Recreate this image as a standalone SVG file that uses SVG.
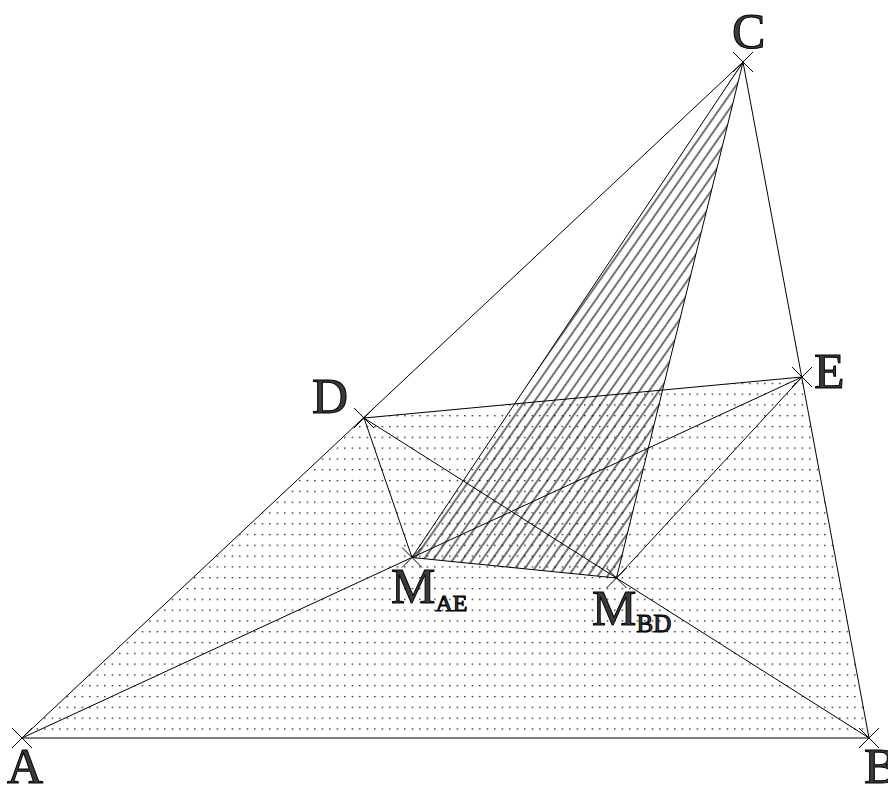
<svg xmlns="http://www.w3.org/2000/svg" width="888" height="786" viewBox="0 0 888 786">
<style>
.ln{stroke:#000;stroke-width:1;fill:none}
.x{stroke:#000;stroke-width:1}
.lb{font-family:"Liberation Serif","Times New Roman",Times,serif;font-size:50px;fill:#3a3a3a;stroke:#000;stroke-width:1}
.sb{font-size:24px}
</style>
<defs>
<pattern id="dots" patternUnits="userSpaceOnUse" x="6.7" y="4.7" width="7.5" height="10.8">
<rect x="0" y="0" width="1.3" height="1.3" fill="#000"/>
</pattern>
<pattern id="hatch" patternUnits="userSpaceOnUse" width="8" height="20" patternTransform="rotate(35)">
<line x1="4" y1="-1" x2="4" y2="21" stroke="#000" stroke-width="1.1"/>
</pattern>
</defs>
<rect width="888" height="786" fill="#fff"/>
<g id="regions">
<polygon points="22,738 869,738 802,377 364,418" fill="url(#dots)"/>
<polygon points="743,62 412,557.5 616.5,578" fill="url(#hatch)"/>
</g>
<g id="connectors">
<line class="ln" x1="22" y1="738" x2="869" y2="738"/>
<line class="ln" x1="869" y1="738" x2="743" y2="62"/>
<line class="ln" x1="743" y1="62" x2="22" y2="738"/>
<line class="ln" x1="364" y1="418" x2="802" y2="377"/>
<line class="ln" x1="22" y1="738" x2="802" y2="377"/>
<line class="ln" x1="869" y1="738" x2="364" y2="418"/>
<line class="ln" x1="364" y1="418" x2="412" y2="557.5"/>
<line class="ln" x1="802" y1="377" x2="616.5" y2="578"/>
<line class="ln" x1="743" y1="62" x2="412" y2="557.5"/>
<line class="ln" x1="743" y1="62" x2="616.5" y2="578"/>
<line class="ln" x1="412" y1="557.5" x2="616.5" y2="578"/>
</g>
<g id="A"><path class="x" d="M12,728L32,748M12,748L32,728"/><text class="lb" x="7" y="783">A</text></g>
<g id="B"><path class="x" d="M859,728L879,748M859,748L879,728"/><text class="lb" x="864" y="783">B</text></g>
<g id="C"><path class="x" d="M733,52L753,72M733,72L753,52"/><text class="lb" x="732" y="48">C</text></g>
<g id="D"><path class="x" d="M354,408L374,428M354,428L374,408"/><text class="lb" x="312" y="413">D</text></g>
<g id="E"><path class="x" d="M792,367L812,387M792,387L812,367"/><text class="lb" x="814" y="388">E</text></g>
<g id="MAE"><path class="x" d="M402,547.5L422,567.5M402,567.5L422,547.5"/><text class="lb" x="391" y="603">M<tspan class="sb" dy="8">AE</tspan></text></g>
<g id="MBD"><path class="x" d="M606.5,568L626.5,588M606.5,588L626.5,568"/><text class="lb" x="592" y="625">M<tspan class="sb" dy="7" style="font-size:25px">BD</tspan></text></g>
</svg>
